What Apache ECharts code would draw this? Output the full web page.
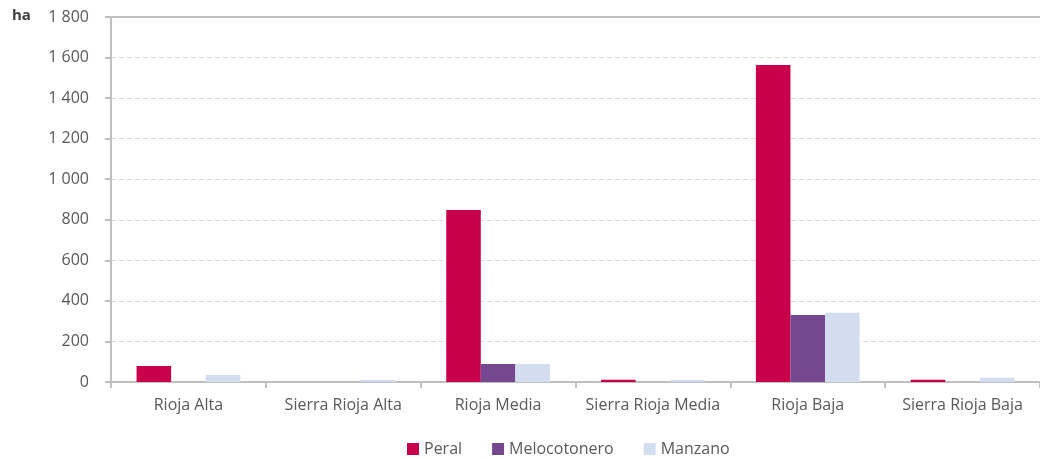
<!DOCTYPE html>
<html>
<head>
<meta charset="utf-8">
<script src="https://cdn.jsdelivr.net/npm/echarts@6/dist/echarts.min.js"></script>
<style>
  html, body {margin: 0; padding: 0; background: #fff;}
  #chart {width: 1040px; height: 459px;}
</style>
</head>
<body>
<div id="chart"></div>
<script>
// datos (ha)
const comarcas = ['Rioja Alta', 'Sierra Rioja Alta', 'Rioja Media', 'Sierra Rioja Media', 'Rioja Baja', 'Sierra Rioja Baja'];
const peral = [79, 0, 848, 11, 1563, 11];
const melocotonero = [0, 0, 89, 0, 330, 0];
const manzano = [35, 10, 89, 10, 342, 21];

const fontFamily = '"Open Sans", "Noto Sans", sans-serif';

function formatMiles(v) {
  return String(v).replace(/\B(?=(\d{3})+(?!\d))/g, ' ');
}

let chart = echarts.init(document.getElementById('chart'));
chart.setOption({
  animation: false,
  textStyle: {fontFamily: fontFamily},
  grid: {
    top: 17,
    left: 111,
    right: -7,
    bottom: 77
  },
  graphic: [{
    type: 'text',
    left: 12,
    top: 8,
    style: {text: 'ha', font: 'bold 15px ' + fontFamily, fill: '#404040'}
  }],
  legend: {
    top: 436,
    left: 402,
    itemWidth: 12,
    itemHeight: 12,
    itemGap: 30,
    icon: 'rect',
    textStyle: {color: '#595959', fontSize: 16, fontFamily: fontFamily},
    data: ['Peral', 'Melocotonero', 'Manzano']
  },
  xAxis: [{
    type: 'category',
    data: comarcas,
    axisLine: {lineStyle: {color: '#bfbfbf', width: 2}},
    axisTick: {show: true, interval: 0, length: 6, lineStyle: {color: '#bfbfbf', width: 2}},
    axisLabel: {color: '#595959', fontSize: 16, margin: 15, interval: 0}
  }, {
    // línea superior continua
    type: 'category',
    position: 'top',
    data: comarcas,
    axisLine: {lineStyle: {color: '#bfbfbf', width: 2}},
    axisTick: {show: false},
    axisLabel: {show: false}
  }],
  yAxis: {
    type: 'value',
    min: 0,
    max: 1800,
    interval: 200,
    axisLine: {show: true, lineStyle: {color: '#bfbfbf', width: 2}},
    axisTick: {show: true, length: 6, lineStyle: {color: '#bfbfbf', width: 2}},
    axisLabel: {color: '#595959', fontSize: 16, margin: 22, formatter: formatMiles},
    splitLine: {
      show: true,
      lineStyle: {color: '#d9d9d9', type: [5, 3], width: 1}
    }
  },
  series: [
    {name: 'Peral', type: 'bar', data: peral, itemStyle: {color: '#c8004b'}, barGap: '0%', barCategoryGap: '33%'},
    {name: 'Melocotonero', type: 'bar', data: melocotonero, itemStyle: {color: '#74478f'}},
    {name: 'Manzano', type: 'bar', data: manzano, itemStyle: {color: '#d2def0'}}
  ]
});
</script>
</body>
</html>
